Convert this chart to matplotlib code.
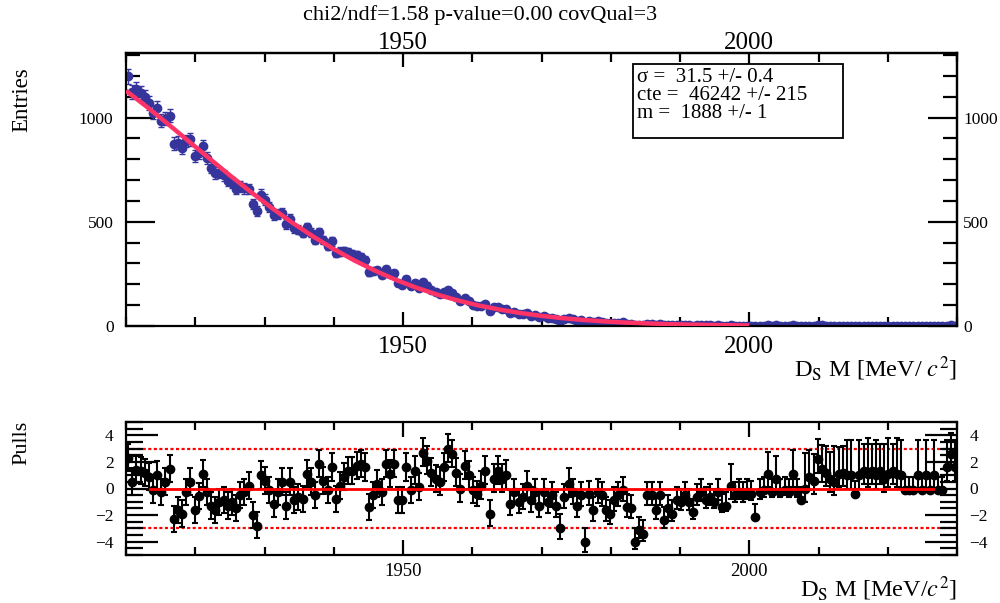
import numpy as np
import matplotlib
matplotlib.use("Agg")
import matplotlib.pyplot as plt
from matplotlib.ticker import MultipleLocator, FixedLocator, NullLocator, FuncFormatter
from matplotlib.patches import Rectangle

plt.rcParams['font.family'] = ['Liberation Serif', 'DejaVu Serif']
plt.rcParams['mathtext.fontset'] = 'stix'

# ---------------- data ----------------
x_range = [1910.0, 2030.0]
n_bins = 200

counts = [
    1198, 1123, 1137, 1119, 1099, 1071, 1023, 1044, 986, 995,
    1010, 875, 880, 856, 887, 895, 815, 830, 862, 804,
    760, 734, 736, 723, 696, 688, 659, 671, 660, 657,
    586, 551, 631, 606, 572, 534, 539, 544, 488, 514,
    469, 462, 446, 473, 447, 414, 450, 412, 384, 406,
    349, 357, 358, 356, 344, 339, 331, 317, 257, 262,
    267, 247, 272, 251, 253, 204, 197, 225, 192, 205,
    181, 209, 194, 175, 162, 153, 161, 171, 160, 138,
    120, 133, 121, 103, 96, 98, 105, 70, 90, 92,
    83, 82, 61, 65, 56, 56, 60, 49, 51, 41,
    46, 39, 40, 33, 23, 33, 37, 32, 24, 27,
    11, 25, 18, 23, 21, 15, 13, 16, 16, 17,
    10, 9, 3, 4, 3, 10, 9, 5, 8, 3,
    4, 3, 5, 4, 5, 4, 2, 4, 5, 3,
    3, 2, 3, 1, 1, 4, 2, 2, 2, 2,
    2, 0, 2, 2, 4, 1, 3, 1, 1, 1,
    3, 1, 0, 1, 2, 2, 5, 3, 2, 2,
    1, 2, 2, 1, 1, 0, 1, 2, 1, 2,
    1, 2, 1, 1, 2, 1, 1, 0, 0, 0,
    1, 0, 1, 0, 1, 0, 0, 2, 5, 2,
]

pulls = [
    2.3, 0.5, 1.4, 1.35, 1.2, 0.85, -0.15, 1.0, -0.3, 0.5,
    1.5, -2.3, -1.65, -1.9, -0.3, 0.5, -1.65, -0.6, 1.1, -0.3,
    -1.3, -1.65, -1.0, -0.9, -1.3, -1.0, -1.5, -0.5, -0.3, 0.2,
    -2.0, -2.8, 1.0, 0.6, -0.15, -1.15, -0.3, 0.5, -1.3, 0.5,
    -0.9, -0.65, -0.8, 1.1, 0.5, -0.5, 1.85, 0.6, -0.15, 1.6,
    -0.8, 0.2, 0.85, 1.35, 1.35, 1.7, 1.85, 1.6, -1.4, -0.5,
    0.35, -0.3, 1.85, 1.1, 1.85, -0.9, -0.9, 1.6, -0.15, 1.35,
    0.1, 2.7, 2.1, 1.2, 0.7, 0.5, 1.6, 3.0, 2.6, 1.2,
    0.0, 1.7, 1.0, -0.15, -0.4, 0.2, 1.35, -1.9, 0.7, 1.35,
    0.7, 1.0, -1.15, -0.3, -1.0, -0.65, 0.2, -0.9, -0.3, -1.3,
    -0.3, -1.0, -0.5, -1.3, -2.95, -0.65, 0.35, -0.3, -1.3, -0.5,
    -4.0, -0.4, -1.65, -0.3, -0.5, -1.65, -1.9, -0.9, -0.5, -0.15,
    -1.4, -1.5, -4.0, -3.15, -3.4, -0.5, -0.5, -1.65, -0.5, -2.4,
    -1.5, -1.9, -0.9, -1.0, -0.5, -1.0, -1.8, -0.65, -0.3, -0.9,
    -0.65, -1.0, -0.3, -1.4, -1.3, 0.2, -0.5, -0.3, -0.5, -0.3,
    -0.4, -2.15, -0.3, -0.15, 1.1, -0.3, 0.7, -0.3, -0.15, -0.3,
    1.1, -0.3, -0.9, 0.0, 0.85, 0.6, 2.2, 1.5, 1.2, 0.7,
    0.5, 1.1, 1.2, 1.0, 1.0, -0.4, 1.0, 1.35, 1.1, 1.35,
    1.0, 1.35, 0.7, 1.1, 1.35, 1.1, 1.0, -0.15, -0.15, -0.15,
    1.0, -0.15, 1.0, -0.15, 1.0, -0.15, -0.15, 1.6, 2.6, 1.6,
]

fit_x = [1910, 1913, 1916, 1919, 1922, 1925, 1928, 1931, 1934, 1937,
         1940, 1943, 1946, 1949, 1952, 1955, 1958, 1961, 1964, 1967,
         1970, 1973, 1976, 1979, 1982, 1985, 1988, 1991, 1994, 1997, 2000]
fit_y = [1129, 1052, 971, 888, 805, 723, 644, 568, 496, 430,
         369, 314, 265, 221, 183, 150, 122, 98, 78.4, 62.1,
         48.7, 37.8, 29.1, 22.2, 16.8, 12.6, 9.3, 6.9, 5.0, 3.6, 2.6]

x_ticks = [1950, 2000]
y_ticks_top = [0, 500, 1000]
pull_zero_x = [1913.5, 2026.5]
pull_band = 3.0

title_text = "chi2/ndf=1.58 p-value=0.00 covQual=3"
param_lines = ["\u03c3 =  31.5 +/- 0.4", "cte =  46242 +/- 215", "m =  1888 +/- 1"]
xlabel_top = r"D$_{\mathrm{S}}$ M [MeV/ $c^{2}$]"
xlabel_bot = r"D$_{\mathrm{S}}$ M [MeV/$c^{2}$]"

# ---------------- derived ----------------
edges = np.linspace(x_range[0], x_range[1], n_bins + 1)
centers = 0.5 * (edges[:-1] + edges[1:])
N = np.array(counts, dtype=float)
P = np.array(pulls, dtype=float)

# Poisson (asymmetric) errors on counts
err_lo = np.where(N > 0, np.sqrt(np.clip(N - 0.25, 0, None)), 0.0)
err_hi = np.where(N > 0, np.sqrt(N + 0.75) + 1.0, 1.148)
safe_lo = np.where(err_lo > 0, err_lo, 1.0)
p_lo = np.where(P >= 0, 1.0, err_lo / err_hi)
p_hi = np.where(P >= 0, err_hi / safe_lo, 1.0)
p_lo = np.where((P >= 0) & (err_lo == 0), 0.0, p_lo)

# ---------------- figure ----------------
fig = plt.figure(figsize=(10.0, 6.03), dpi=100)
W, H = 1000.0, 603.0

def ax_rect(l, t, r, b):
    return [l / W, 1 - b / H, (r - l) / W, (b - t) / H]

ax = fig.add_axes(ax_rect(126, 53, 957, 326))
ax2 = fig.add_axes(ax_rect(126, 422, 957, 555))

blue = "#35359c"
ax.errorbar(centers, N, yerr=[err_lo, err_hi], fmt='o', color=blue, ms=6,
            mec=blue, mfc=blue, elinewidth=1.0, capsize=2.0, capthick=1.0, zorder=2)
ax.plot(fit_x, fit_y, color="#ff3366", lw=3.2, zorder=3, solid_capstyle='butt')

ax.set_xlim(x_range)
ax.set_ylim(0, 1310)

for a in (ax, ax2):
    for s in a.spines.values():
        s.set_linewidth(1.6)

ax.xaxis.set_major_locator(FixedLocator(x_ticks))
ax.xaxis.set_minor_locator(MultipleLocator(10))
ax.yaxis.set_major_locator(FixedLocator(y_ticks_top))
ax.yaxis.set_minor_locator(MultipleLocator(100))
ax.tick_params(axis='x', which='major', direction='in', length=10, width=1.6,
               top=True, bottom=True, labeltop=False, labelbottom=True,
               labelsize=18, pad=7)
ax.tick_params(axis='x', which='minor', direction='in', length=6.5, width=1.6,
               top=True, bottom=True)
ax.tick_params(axis='y', which='major', direction='in', length=21, width=1.6,
               left=True, right=True, labelleft=True, labelright=False,
               labelsize=12.5, pad=9)
ax.tick_params(axis='y', which='minor', direction='in', length=10, width=1.6,
               left=True, right=True)

sec = ax.secondary_xaxis('top')
sec.set_xticks(x_ticks)
sec.xaxis.set_minor_locator(NullLocator())
sec.tick_params(axis='x', length=0, labelsize=18, pad=-0.5)
sec.spines['top'].set_linewidth(1.6)

secy = ax.secondary_yaxis('right')
secy.set_yticks(y_ticks_top)
secy.yaxis.set_minor_locator(NullLocator())
secy.tick_params(axis='y', length=0, labelsize=12.5, pad=4.5)
secy.spines['right'].set_linewidth(1.6)

ax.text(1.0, -0.187, xlabel_top, transform=ax.transAxes, ha='right', va='baseline',
        fontsize=17.5)
fig.text(22 / W, 1 - 100 / H, "Entries", rotation=90, ha='center', va='center',
         fontsize=16.5)
fig.text(480 / W, 1 - 15 / H, title_text, ha='center', va='center', fontsize=16)

# parameter box
fig.patches.append(Rectangle((633 / W, 1 - 138 / H), 210 / W, 74 / H,
                             transform=fig.transFigure, facecolor='white',
                             edgecolor='black', lw=1.3, zorder=5))
for line, yp in zip(param_lines, [78, 96, 113]):
    fig.text(637 / W, 1 - yp / H, line, ha='left', va='center', fontsize=15,
             zorder=6)

# ---------------- pulls ----------------
ax2.errorbar(centers, P, yerr=[p_lo, p_hi], fmt='o', color='black', ms=6,
             elinewidth=1.5, capsize=2.2, capthick=1.5, zorder=2)
ax2.plot(pull_zero_x, [0, 0], color='red', lw=2.0, zorder=3)
ax2.axhline(pull_band, color='red', lw=1.6, linestyle=(0, (1.4, 1.1)), zorder=1)
ax2.axhline(-pull_band, color='red', lw=1.6, linestyle=(0, (1.4, 1.1)), zorder=1)
ax2.set_xlim(x_range)
ax2.set_ylim(-5, 5)
ax2.xaxis.set_major_locator(FixedLocator(x_ticks))
ax2.xaxis.set_minor_locator(MultipleLocator(10))
ax2.yaxis.set_major_locator(MultipleLocator(2))
ax2.yaxis.set_minor_locator(MultipleLocator(0.5))
ax2.tick_params(axis='x', which='major', direction='in', length=11, width=1.6,
                top=True, bottom=True, labelsize=13.5, pad=6)
ax2.tick_params(axis='x', which='minor', direction='in', length=5.5, width=1.6,
                top=True, bottom=True)
ax2.tick_params(axis='y', which='major', direction='in', length=23, width=1.6,
                left=True, right=True, labelleft=True, labelright=True,
                labelsize=12.5, pad=9)
ax2.tick_params(axis='y', which='minor', direction='in', length=12, width=1.6,
                left=True, right=True)
ax2.yaxis.set_major_formatter(FuncFormatter(
    lambda v, p: ("\u2212%d" % abs(v)) if v < 0 else "%d" % v))
ax2.text(1.0, -0.315, xlabel_bot, transform=ax2.transAxes, ha='right', va='baseline',
         fontsize=17.5)
fig.text(22 / W, 1 - 443 / H, "Pulls", rotation=90, ha='center', va='center',
         fontsize=16)

fig.savefig("out.png", dpi=100)
